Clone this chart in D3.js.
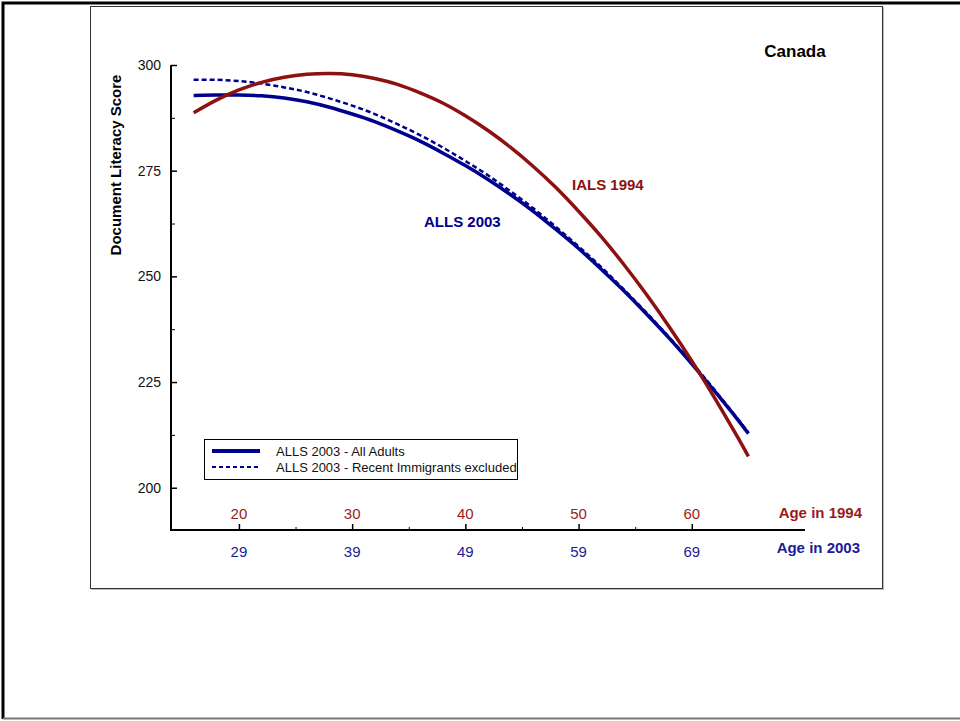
<!DOCTYPE html>
<html>
<head>
<meta charset="utf-8">
<script src="https://cdn.jsdelivr.net/npm/d3@7"></script>
<style>
  body { margin: 0; background: #fff; }
  svg { display: block; font-family: "Liberation Sans", Arial, sans-serif; }
</style>
</head>
<body>
<div id="main-chart"></div>
<script>
// age in 1994 (x position); ALLS cohort is the same people nine years later
const ages1994 = [16, 18, 20, 22, 24, 26, 28, 30, 32, 34, 36, 38, 40, 42, 44, 46, 48, 50, 52, 54, 56, 58, 60, 62, 64, 65];
const ials1994 = [288.7, 291.7, 294.1, 295.9, 297.1, 297.8, 298.0, 297.7, 296.8, 295.4, 293.4, 291.0, 288.0, 284.5, 280.5, 276.0, 271.0, 265.4, 259.4, 252.8, 245.7, 238.1, 230.0, 221.3, 212.2, 207.4];
const allsAll = [292.8, 292.9, 292.9, 292.7, 292.2, 291.3, 290.0, 288.4, 286.6, 284.4, 282.0, 279.2, 276.2, 272.9, 269.3, 265.4, 261.1, 256.6, 251.7, 246.6, 241.1, 235.4, 229.3, 222.9, 216.3, 212.8];
const allsNoImm = [296.5, 296.5, 296.2, 295.6, 294.7, 293.6, 292.1, 290.4, 288.4, 286.0, 283.4, 280.5, 277.3, 273.9, 270.1, 266.1, 261.7, 257.1, 252.2, 246.9, 241.4, 235.6, 229.6, 223.2, 216.5, 213.1];

const yTicks = [200, 225, 250, 275, 300];
const yMinor = [212.5, 237.5, 262.5, 287.5];
const xTicks1994 = [20, 30, 40, 50, 60];
const xTicks2003 = [29, 39, 49, 59, 69];
const xMinor = [25, 35, 45, 55];

const legendItems = [
  { label: "ALLS 2003 - All Adults", dash: null, w: 4 },
  { label: "ALLS 2003 - Recent Immigrants excluded", dash: "4,3", w: 2 }
];

const width = 960, height = 721;
const red = "#8e1111", blue = "#00008f";
const redText = "#9b1b1b", blueText = "#1c1c96";

const svg = d3.select("#main-chart").append("svg")
    .attr("width", width)
    .attr("height", height);

// outer page frame
svg.append("path")
    .attr("d", "M3,719 L3,3 L962,3")
    .attr("fill", "none").attr("stroke", "#000").attr("stroke-width", 3);
svg.append("line")
    .attr("x1", 3).attr("x2", 960).attr("y1", 718.5).attr("y2", 718.5)
    .attr("stroke", "#777").attr("stroke-width", 2);

// inner chart box with faint shadow
svg.append("rect")
    .attr("x", 91).attr("y", 7).attr("width", 793).attr("height", 583)
    .attr("fill", "#bbb");
svg.append("rect")
    .attr("x", 90.5).attr("y", 6.5).attr("width", 792).attr("height", 582)
    .attr("fill", "#fff").attr("stroke", "#333").attr("stroke-width", 1);

const x = d3.scaleLinear().domain([14, 70]).range([171, 805]);
const y = d3.scaleLinear().domain([190, 300]).range([530, 65]);

// y axis
const yAxis = svg.append("g").attr("transform", "translate(171,0)");
yAxis.call(d3.axisRight(y).tickValues(yTicks).tickSize(6).tickFormat(""));
yAxis.select(".domain").remove();
yAxis.selectAll("line").attr("stroke", "#000").attr("stroke-width", 1.5);
yAxis.append("g")
    .call(d3.axisRight(y).tickValues(yMinor).tickSize(4).tickFormat(""))
    .call(g => g.select(".domain").remove())
    .selectAll("line").attr("stroke", "#000").attr("stroke-width", 1);

svg.append("g").selectAll("text")
    .data(yTicks)
    .join("text")
    .attr("x", 161)
    .attr("y", d => y(d) + 5)
    .attr("text-anchor", "end")
    .attr("font-size", 14)
    .attr("fill", "#111")
    .text(d => d);

// x axis
const xAxis = svg.append("g").attr("transform", "translate(0,530)");
xAxis.call(d3.axisTop(x).tickValues(xTicks1994).tickSize(6).tickFormat(""));
xAxis.select(".domain").remove();
xAxis.selectAll("line").attr("stroke", "#000").attr("stroke-width", 1.5);
xAxis.append("g")
    .call(d3.axisTop(x).tickValues(xMinor).tickSize(3).tickFormat(""))
    .call(g => g.select(".domain").remove())
    .selectAll("line").attr("stroke", "#000").attr("stroke-width", 1);

// axis lines
svg.append("path")
    .attr("d", `M${x(14)},${y(300)} L${x(14)},${y(190)} L${x(70)},${y(190)}`)
    .attr("fill", "none").attr("stroke", "#000").attr("stroke-width", 2);

svg.append("g").selectAll("text")
    .data(xTicks1994)
    .join("text")
    .attr("x", d => x(d))
    .attr("y", 519)
    .attr("text-anchor", "middle")
    .attr("font-size", 15)
    .attr("fill", redText)
    .text(d => d);

svg.append("g").selectAll("text")
    .data(xTicks2003)
    .join("text")
    .attr("x", (d, i) => x(xTicks1994[i]))
    .attr("y", 557)
    .attr("text-anchor", "middle")
    .attr("font-size", 15)
    .attr("fill", blueText)
    .text(d => d);

svg.append("text")
    .attr("x", 862).attr("y", 518)
    .attr("text-anchor", "end")
    .attr("font-size", 15).attr("font-weight", "bold")
    .attr("fill", redText)
    .text("Age in 1994");
svg.append("text")
    .attr("x", 860).attr("y", 553)
    .attr("text-anchor", "end")
    .attr("font-size", 15).attr("font-weight", "bold")
    .attr("fill", blueText)
    .text("Age in 2003");

// y title
svg.append("text")
    .attr("transform", "translate(121,165) rotate(-90)")
    .attr("text-anchor", "middle")
    .attr("font-size", 15).attr("font-weight", "bold")
    .attr("fill", "#000")
    .text("Document Literacy Score");

svg.append("text")
    .attr("x", 795).attr("y", 57)
    .attr("text-anchor", "middle")
    .attr("font-size", 17).attr("font-weight", "bold")
    .attr("fill", "#000")
    .text("Canada");

// curves
const line = vals => d3.line()
    .x((d, i) => x(ages1994[i]))
    .y(d => y(d))
    .curve(d3.curveNatural)(vals);

svg.append("path")
    .attr("d", line(allsAll))
    .attr("fill", "none").attr("stroke", blue).attr("stroke-width", 3.5);
svg.append("path")
    .attr("d", line(allsNoImm))
    .attr("fill", "none").attr("stroke", blue).attr("stroke-width", 2.5)
    .attr("stroke-dasharray", "5,3");
svg.append("path")
    .attr("d", line(ials1994))
    .attr("fill", "none").attr("stroke", red).attr("stroke-width", 3.5);

svg.append("text")
    .attr("x", 572).attr("y", 190)
    .attr("font-size", 15).attr("font-weight", "bold")
    .attr("fill", red)
    .text("IALS 1994");
svg.append("text")
    .attr("x", 424).attr("y", 227)
    .attr("font-size", 15).attr("font-weight", "bold")
    .attr("fill", blue)
    .text("ALLS 2003");

// legend
const legend = svg.append("g");
legend.append("rect")
    .attr("x", 204.5).attr("y", 439.5).attr("width", 313).attr("height", 40)
    .attr("fill", "#fff").attr("stroke", "#000").attr("stroke-width", 1);
const items = legend.selectAll("g.item")
    .data(legendItems)
    .join("g")
    .attr("class", "item")
    .attr("transform", (d, i) => `translate(0,${451 + i * 16})`);
items.append("line")
    .attr("x1", 212).attr("x2", 260)
    .attr("stroke", blue)
    .attr("stroke-width", d => d.w)
    .attr("stroke-dasharray", d => d.dash);
items.append("text")
    .attr("x", 276).attr("y", 5)
    .attr("font-size", 13)
    .attr("fill", "#111")
    .text(d => d.label);
</script>
</body>
</html>
